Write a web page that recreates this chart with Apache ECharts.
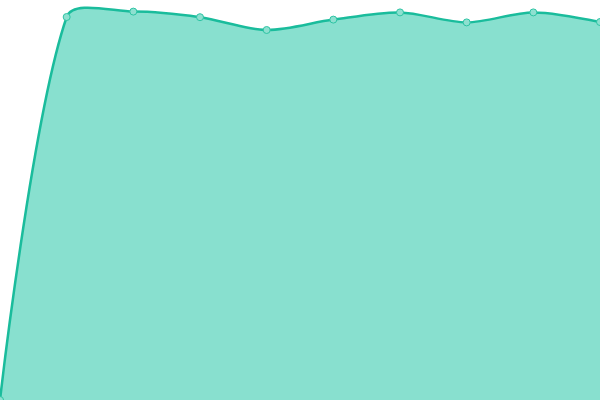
<!DOCTYPE html>
<html>
<head>
    <meta charset="utf-8">
    <title>area</title>
    <script src="https://cdn.jsdelivr.net/npm/echarts@6/dist/echarts.min.js"></script>
</head>
<style>
    html, body { margin: 0; padding: 0; background: #fff; }
    #main { width: 600px; height: 400px; }
</style>
<body>
<div id="main"></div>
<script>
    var categories = ['1', '2', '3', '4', '5', '6', '7', '8', '9', '10'];
    var values = [0, 95.75, 97.1, 95.7, 92.5, 95.1, 96.9, 94.4, 96.9, 94.5];

    var lineColor = '#1abc9c';
    var areaColor = '#88e0cf';
    var smooth = 0.3;

    // 老式平滑曲线：控制点只按整体包围盒约束，允许轻微过冲
    function smoothPathData(pts, s, min, max) {
        function clamp(p) {
            return [Math.max(min[0], Math.min(max[0], p[0])), Math.max(min[1], Math.min(max[1], p[1]))];
        }
        function dist(a, b) {
            return Math.sqrt((a[0] - b[0]) * (a[0] - b[0]) + (a[1] - b[1]) * (a[1] - b[1]));
        }
        var d = 'M' + pts[0][0] + ' ' + pts[0][1];
        var cp0 = pts[0].slice();
        for (var i = 1; i < pts.length; i++) {
            var p = pts[i], prev = pts[i - 1], next = pts[i + 1];
            var cp1, ratio = 0.5, v = [0, 0];
            if (!next) {
                cp1 = p.slice();
            } else {
                v = [next[0] - prev[0], next[1] - prev[1]];
                var l0 = dist(p, prev), l1 = dist(p, next);
                ratio = l1 / (l0 + l1);
                cp1 = [p[0] - v[0] * s * (1 - ratio), p[1] - v[1] * s * (1 - ratio)];
            }
            cp0 = clamp(cp0);
            cp1 = clamp(cp1);
            d += ' C' + cp0[0] + ' ' + cp0[1] + ' ' + cp1[0] + ' ' + cp1[1] + ' ' + p[0] + ' ' + p[1];
            cp0 = [p[0] + v[0] * s * ratio, p[1] + v[1] * s * ratio];
        }
        return d;
    }

    function renderArea(params, api) {
        var rect = params.coordSys;
        var pts = [];
        for (var i = 0; i < values.length; i++) {
            pts.push(api.coord([i, values[i]]));
        }
        var min = [rect.x, rect.y], max = [rect.x + rect.width, rect.y + rect.height];
        pts.forEach(function (p) {
            min = [Math.min(min[0], p[0]), Math.min(min[1], p[1])];
            max = [Math.max(max[0], p[0]), Math.max(max[1], p[1])];
        });
        var lineD = smoothPathData(pts, smooth, min, max);
        var baseY = api.coord([0, 0])[1];
        var last = pts[pts.length - 1];
        var areaD = lineD + ' L' + last[0] + ' ' + baseY + ' L' + pts[0][0] + ' ' + baseY + ' Z';
        return {
            type: 'group',
            children: [
                {type: 'path', shape: {pathData: areaD}, style: {fill: areaColor, stroke: null}},
                {type: 'path', shape: {pathData: lineD}, style: {fill: 'none', stroke: lineColor, lineWidth: 2.5}}
            ]
        };
    }

    var myChart = echarts.init(document.getElementById('main'));
    var option = {
        animation: false,
        grid: {left: 0, right: 0, top: 0, bottom: 0},
        xAxis: {type: 'category', boundaryGap: false, data: categories, show: false},
        yAxis: {type: 'value', min: 0, max: 100, show: false},
        series: [{
            type: 'custom',
            z: 1,
            data: [[0, 0]],
            encode: {x: 0, y: 1},
            renderItem: renderArea
        }, {
            type: 'line',
            z: 3,
            data: values,
            symbol: 'circle',
            symbolSize: 7,
            lineStyle: {width: 0, opacity: 0},
            itemStyle: {color: '#8ee0d0', borderColor: '#2ec4a4', borderWidth: 1}
        }]
    };
    myChart.setOption(option);
</script>
</body>
</html>
